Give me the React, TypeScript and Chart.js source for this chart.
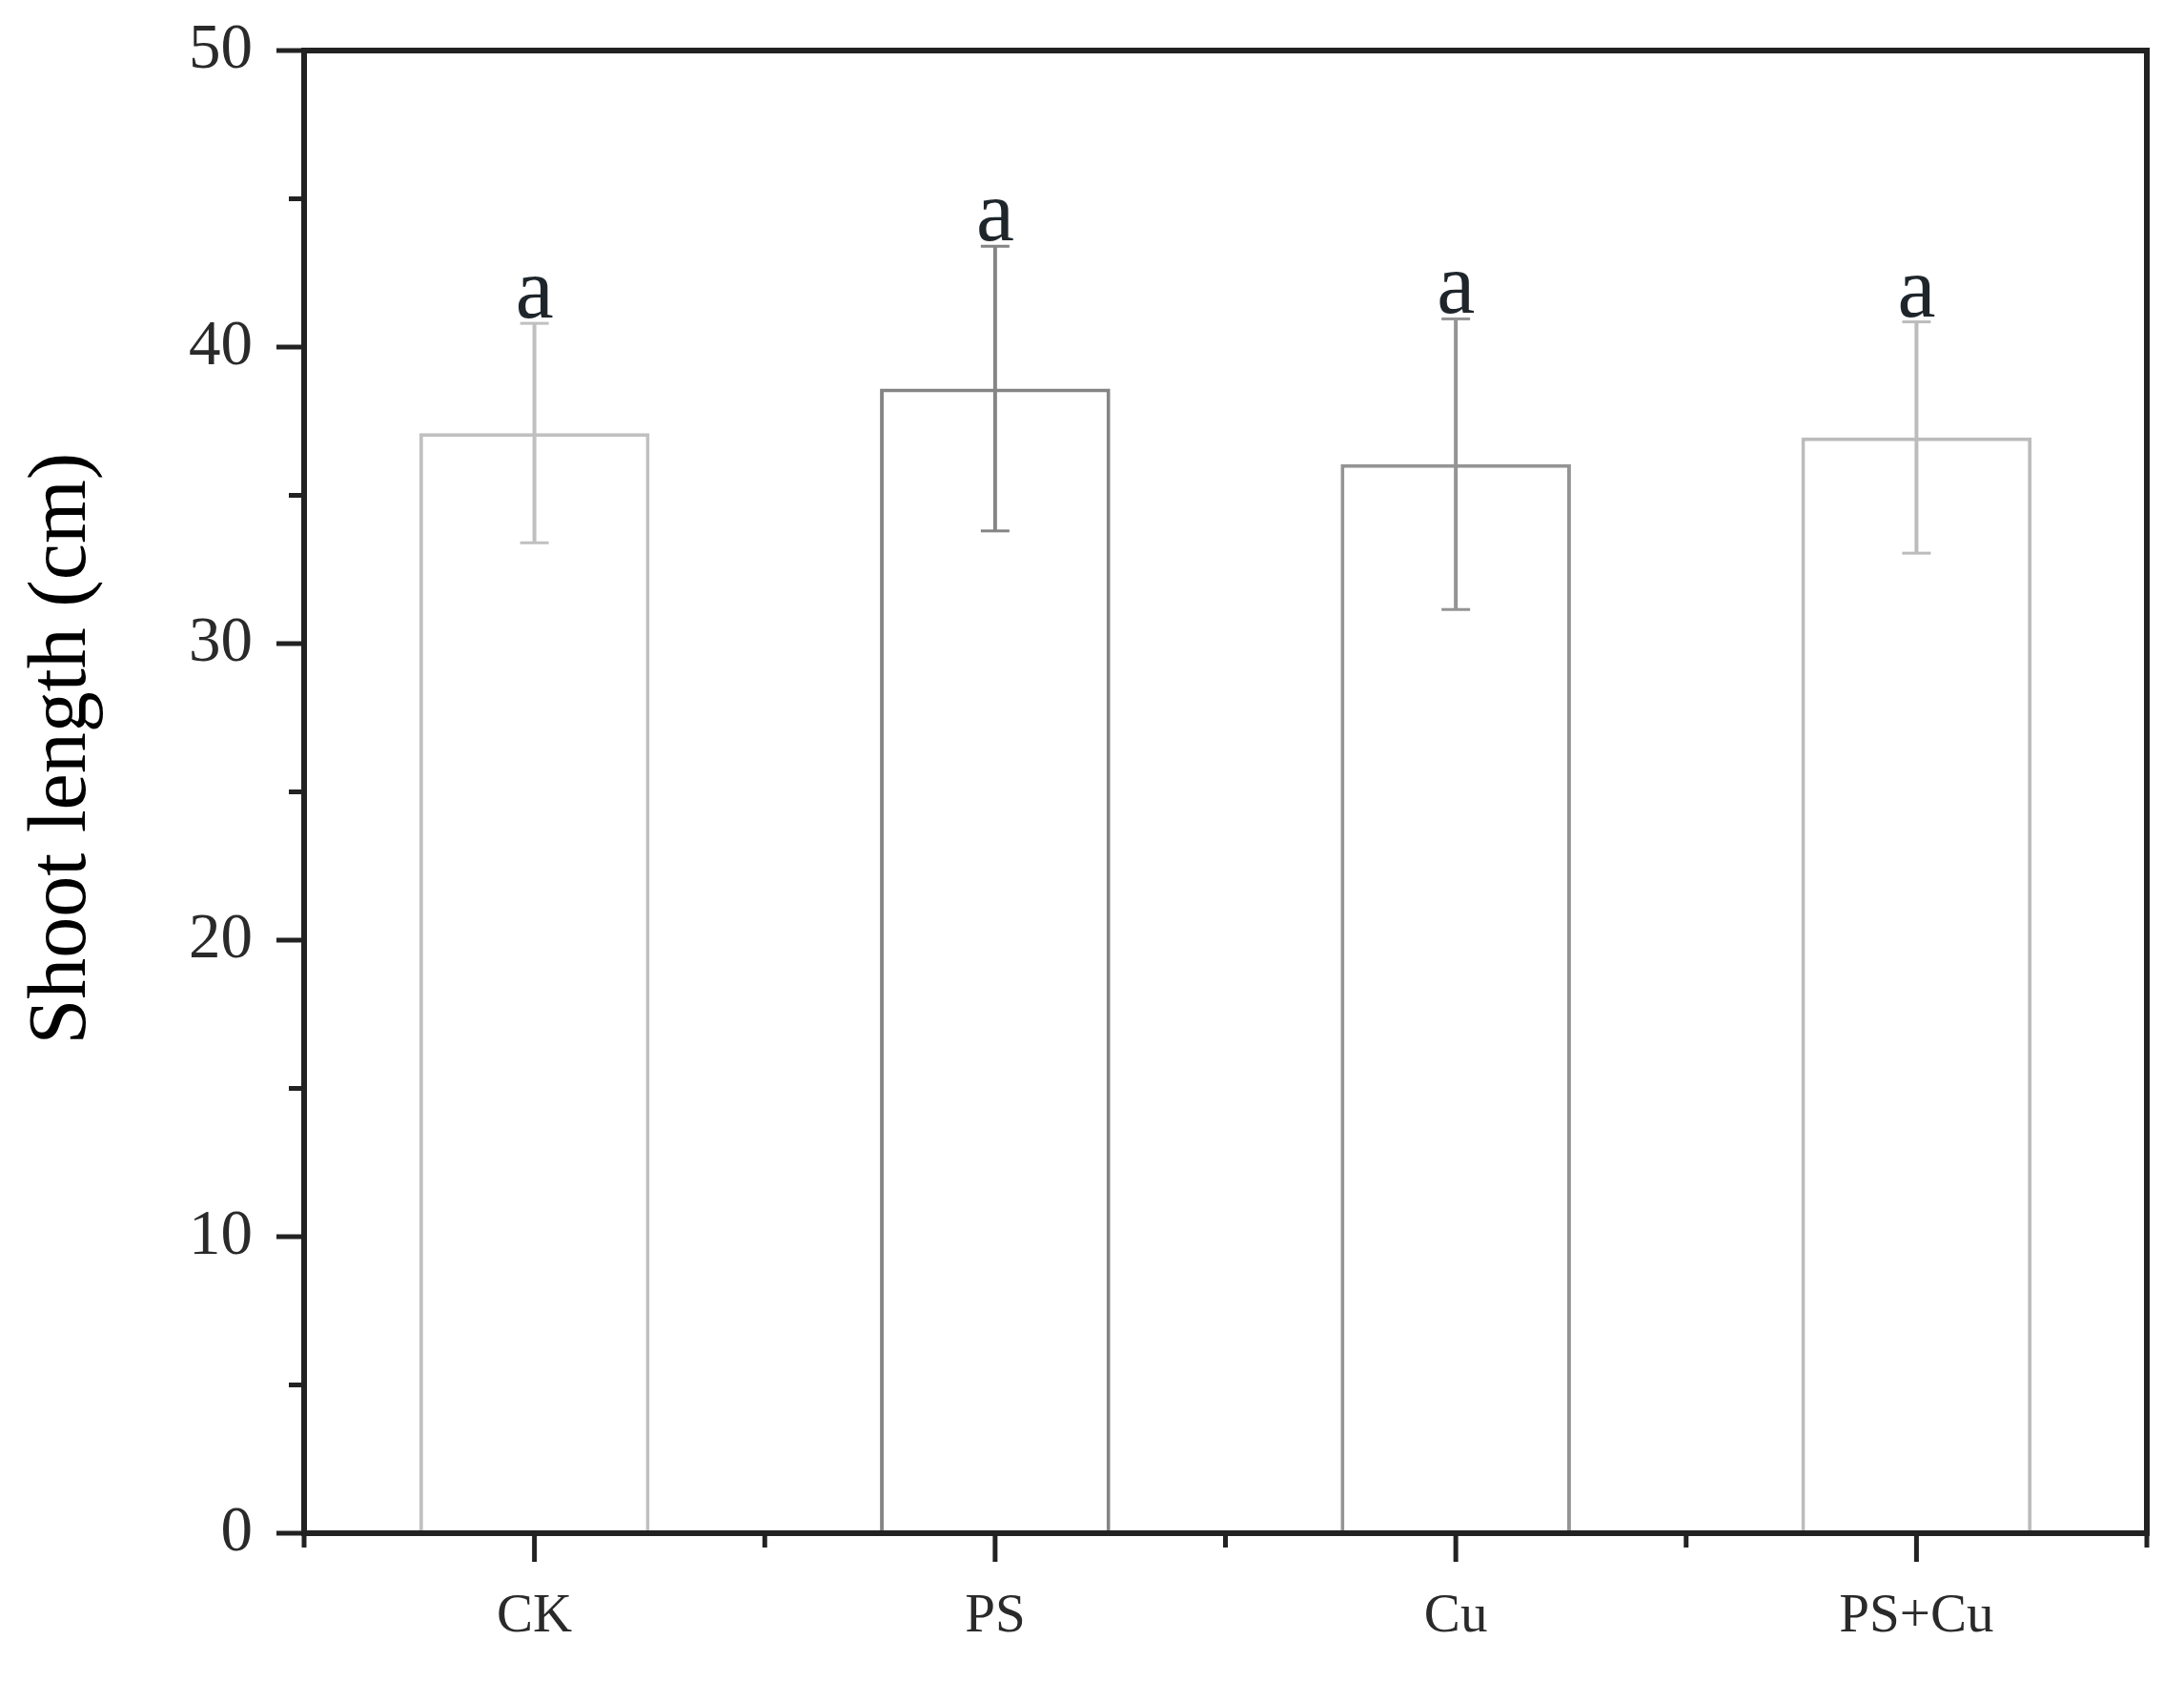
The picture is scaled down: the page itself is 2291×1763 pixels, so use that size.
import React, { useEffect, useRef } from 'react';
import { Chart, registerables } from 'chart.js';

Chart.register(...registerables);

const categories = ['CK', 'PS', 'Cu', 'PS+Cu'];
const means = [37.1, 38.6, 36.05, 36.95];
const errors = [3.7, 4.8, 4.9, 3.9];
const letters = ['a', 'a', 'a', 'a'];
const yMajorTicks = [0, 10, 20, 30, 40, 50];
const yMinorTicks = [5, 15, 25, 35, 45];
const barColors = ['#c0c0c0', '#858585', '#949494', '#bcbcbc'];
const yTitle = 'Shoot length (cm)';

const W = 2291;
const H = 1763;

const decorPlugin = {
  id: 'decor',
  afterDatasetsDraw(chart: any) {
    const { ctx, chartArea: ca, scales } = chart;
    const x = scales.x;
    const y = scales.y;
    const meta = chart.getDatasetMeta(0);
    const line = (x1: number, y1: number, x2: number, y2: number) => {
      ctx.beginPath();
      ctx.moveTo(x1, y1);
      ctx.lineTo(x2, y2);
      ctx.stroke();
    };
    ctx.save();
    // error bars and significance letters
    meta.data.forEach((bar: any, i: number) => {
      const cx = bar.x;
      const top = y.getPixelForValue(means[i] + errors[i]);
      const bot = y.getPixelForValue(means[i] - errors[i]);
      ctx.strokeStyle = barColors[i];
      ctx.lineWidth = 4;
      line(cx, top, cx, bot);
      ctx.lineWidth = 3;
      line(cx - 15, top, cx + 15, top);
      line(cx - 15, bot, cx + 15, bot);
      ctx.fillStyle = '#1f262b';
      ctx.font = '90px "Liberation Serif"';
      ctx.textAlign = 'center';
      ctx.textBaseline = 'alphabetic';
      ctx.fillText(letters[i], cx, top - 6);
    });
    // frame
    ctx.strokeStyle = '#222';
    ctx.lineWidth = 6;
    ctx.lineCap = 'butt';
    ctx.strokeRect(ca.left, ca.top, ca.right - ca.left, ca.bottom - ca.top);
    // y ticks
    ctx.lineWidth = 5;
    yMajorTicks.forEach((v) => {
      const py = y.getPixelForValue(v);
      line(ca.left - 29, py, ca.left, py);
    });
    yMinorTicks.forEach((v) => {
      const py = y.getPixelForValue(v);
      line(ca.left - 16, py, ca.left, py);
    });
    // x ticks
    categories.forEach((_, i) => {
      const px = x.getPixelForValue(i);
      line(px, ca.bottom, px, ca.bottom + 30);
    });
    for (let i = 0; i <= categories.length; i++) {
      const px = x.getPixelForValue(i - 0.5);
      line(px, ca.bottom, px, ca.bottom + 15);
    }
    // y title
    ctx.fillStyle = '#000';
    ctx.font = '86px "Liberation Serif"';
    ctx.textAlign = 'center';
    ctx.textBaseline = 'middle';
    ctx.translate(66, 785);
    ctx.rotate(-Math.PI / 2);
    ctx.fillText(yTitle, 0, 0);
    ctx.restore();
  },
};

export default function App() {
  const ref = useRef<HTMLCanvasElement | null>(null);

  useEffect(() => {
    if (!ref.current) return;
    const chart = new Chart(ref.current, {
      type: 'bar',
      data: {
        labels: categories,
        datasets: [
          {
            data: means,
            backgroundColor: '#ffffff',
            borderColor: barColors,
            borderWidth: 4,
            barPercentage: 0.5,
            categoryPercentage: 1,
          },
        ],
      },
      options: {
        animation: false,
        responsive: false,
        devicePixelRatio: 1,
        layout: { padding: { top: 53, right: 39, left: 0, bottom: 0 } },
        plugins: {
          legend: { display: false },
          tooltip: { enabled: false },
          title: { display: false },
        },
        scales: {
          x: {
            offset: true,
            grid: { display: true, drawOnChartArea: false, drawTicks: false, color: 'rgba(0,0,0,0)' },
            border: { display: false },
            ticks: {
              color: '#2a2a2a',
              padding: 54,
              font: { family: '"Liberation Serif"', size: 57 },
              maxRotation: 0,
            },
            afterFit: (s: any) => {
              s.height = 155;
              s.paddingLeft = 0;
              s.paddingRight = 0;
            },
          },
          y: {
            min: 0,
            max: 50,
            grid: { display: true, drawOnChartArea: false, drawTicks: false, color: 'rgba(0,0,0,0)' },
            border: { display: false },
            ticks: {
              stepSize: 10,
              color: '#2a2a2a',
              padding: 54,
              font: { family: '"Liberation Serif"', size: 67 },
            },
            afterFit: (s: any) => {
              s.width = 319;
              s.paddingTop = 0;
              s.paddingBottom = 0;
            },
          },
        },
      },
      plugins: [decorPlugin],
    });
    return () => chart.destroy();
  }, []);

  return (
    <div style={{ position: 'absolute', left: 0, top: 0, width: W, height: H, background: '#fff' }}>
      <canvas ref={ref} width={W} height={H} style={{ display: 'block', width: W, height: H }} />
    </div>
  );
}
